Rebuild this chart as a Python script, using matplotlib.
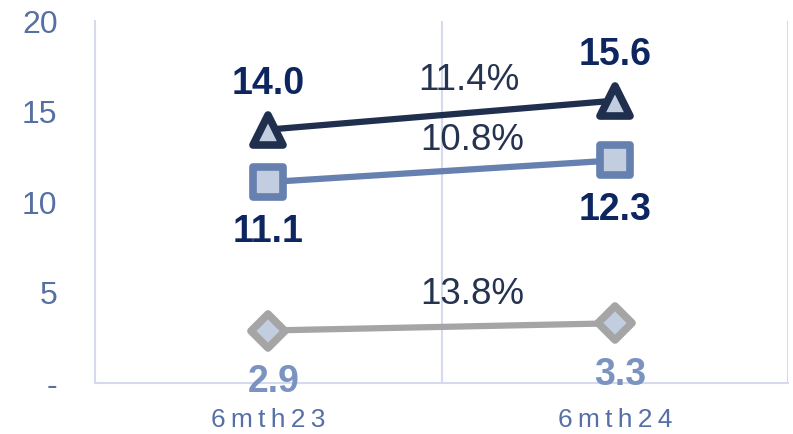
import matplotlib.pyplot as plt
from matplotlib.markers import MarkerStyle

# Данные
periods = ['6mth23', '6mth24']
top_vals = [14.0, 15.6]      # треугольники
mid_vals = [11.1, 12.3]      # квадраты
low_vals = [2.9, 3.3]        # ромбы
y_ticks = [0, 5, 10, 15, 20]
y_tick_labels = ['-', '5', '10', '15', '20']

plt.rcParams['font.family'] = ['Liberation Sans', 'DejaVu Sans']

fig = plt.figure(figsize=(7.93, 4.34), dpi=100)
ax = fig.add_axes([0.1198, 0.1175, 0.8739, 0.8341])

x = list(range(len(periods)))
fill = '#c2cde0'

series = [
    # значения, цвет линии, маркер, размер, цвет подписи, смещение подписи, смещение %
    (top_vals, '#1f2f4d', '^', 21, '#0d2660', (0, 33), (20, 25)),
    (mid_vals, '#6680b0', 's', 21, '#0d2660', (0, -36), (22, 22)),
    (low_vals, '#a5a5a5', 'D', 17, '#7b93c0', (4, -37), (22, 23)),
]

for vals, col, mk, ms, lab_col, off, pct_off in series:
    ax.plot(x, vals, color=col, lw=4.5, solid_capstyle='butt',
            marker=MarkerStyle(mk, joinstyle='round'), ms=ms, mew=5.5,
            mec=col, mfc=fill, zorder=3)
    for xi, v in zip(x, vals):
        ax.annotate(f'{v:.1f}', (xi, v), xytext=off, textcoords='offset points',
                    ha='center', va='center', fontsize=27, fontweight='bold',
                    color=lab_col, zorder=4)
    growth = vals[1] / vals[0] - 1
    ax.annotate(f'{growth * 100:.1f}%', (0.5, sum(vals) / 2), xytext=pct_off,
                textcoords='offset points', ha='center', va='center',
                fontsize=26.5, color='#253350', zorder=4)

ax.set_xlim(-0.5, 1.5)
ax.set_ylim(0, 20)

grid_col = '#d5dbec'
for b in [0.5, 1.5]:
    ax.axvline(b, color=grid_col, lw=1.5, zorder=1)

for s in ['top', 'right']:
    ax.spines[s].set_visible(False)
for s in ['left', 'bottom']:
    ax.spines[s].set_color(grid_col)
    ax.spines[s].set_linewidth(1.5)

ax.set_xticks(x)
ax.set_xticklabels(['\u2009'.join(p) for p in periods])
ax.set_yticks(y_ticks)
ax.set_yticklabels(y_tick_labels)
ax.tick_params(axis='x', length=0, pad=18, labelsize=19, labelcolor='#5670a5')
ax.tick_params(axis='y', length=0, pad=27, labelsize=23, labelcolor='#5670a5')

fig.savefig('out.png', dpi=100)
